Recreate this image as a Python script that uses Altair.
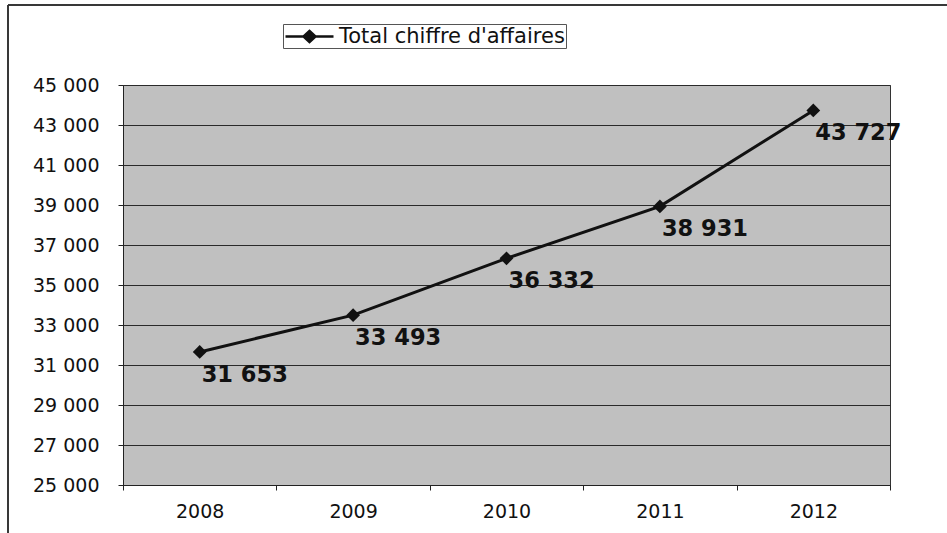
import altair as alt
import pandas as pd

years = ["2008", "2009", "2010", "2011", "2012"]
values = [31653, 33493, 36332, 38931, 43727]
labels = ["31 653", "33 493", "36 332", "38 931", "43 727"]
series_name = "Total chiffre d'affaires"
y_ticks = list(range(25000, 45001, 2000))

df = pd.DataFrame({"year": years, "value": values, "label": labels})

FONT = "DejaVu Sans"
INK = "#111111"

x_enc = alt.X(
    "year:N",
    bandPosition=0.5,
    scale=alt.Scale(type="band", paddingInner=0, paddingOuter=0),
    axis=alt.Axis(
        title=None, labelAngle=0, tickBand="extent", tickSize=5,
        labelPadding=12, labelFont=FONT, labelFontSize=19, labelColor="#111",
        domainColor="#222", tickColor="#222", grid=False,
    ),
)
y_enc = alt.Y(
    "value:Q",
    scale=alt.Scale(domain=[25000, 45000], nice=False, zero=False),
    axis=alt.Axis(
        title=None, values=y_ticks,
        labelExpr="replace(format(datum.value, ','), ',', ' ')",
        tickSize=5, labelPadding=19, labelFont=FONT, labelFontSize=19,
        labelColor="#111", domainColor="#222", tickColor="#222",
        grid=True, gridColor="#2a2a2a", gridWidth=1,
    ),
)

color_enc = alt.Color(
    "s:N",
    scale=alt.Scale(range=[INK]),
    legend=alt.Legend(
        title=None, orient="none", legendX=160, legendY=-61,
        strokeColor="#555", fillColor="white", padding=1,
        labelFont=FONT, labelFontSize=21, labelColor="#111", labelLimit=0,
        symbolType="M-2.4,0H2.4M0,-0.55L0.6,0L0,0.55L-0.6,0Z",
        symbolSize=400, symbolStrokeWidth=2.5,
        symbolFillColor=INK, symbolStrokeColor=INK,
        symbolOffset=14, labelOffset=18,
    ),
)

base = alt.Chart(df).transform_calculate(s=f'"{series_name}"')

line = base.mark_line(strokeWidth=3).encode(x=x_enc, y=y_enc, color=color_enc)
pts = base.mark_point(shape="diamond", filled=True, size=190, opacity=1, color=INK).encode(
    x=x_enc, y=y_enc
)
txt = base.mark_text(
    align="left", baseline="top", dx=2, dy=12, font=FONT, fontSize=22.5,
    fontWeight="bold", color=INK,
).encode(x=x_enc, y=y_enc, text="label:N")

border_v = alt.Chart(df).mark_rule(color="#333", strokeWidth=1).encode(
    x=alt.value(-115), y=alt.value(-80), y2=alt.value(460)
)
border_h = alt.Chart(df).mark_rule(color="#333", strokeWidth=1).encode(
    x=alt.value(-115), x2=alt.value(840), y=alt.value(-80)
)

chart = (
    alt.layer(line, pts, txt, border_v, border_h)
    .properties(
        width=767, height=400,
        autosize=alt.AutoSizeParams(type="none"),
        padding={"left": 123, "top": 85, "right": 57, "bottom": 48},
        background="white",
    )
    .configure_view(fill="#c0c0c0", stroke="#333", strokeWidth=1)
)

chart.save("out.html", embed_options={"renderer": "svg", "actions": False})
